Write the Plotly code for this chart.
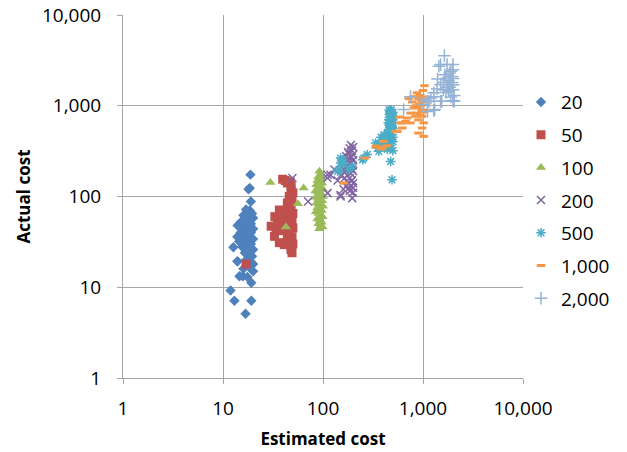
import plotly.graph_objects as go

# ---------------- data ----------------
series_names = ["20", "50", "100", "200", "500", "1,000", "2,000"]

est_20 = [18.8, 18.5, 18, 19, 17, 18.5, 19.5, 16, 18, 20, 15, 17, 19, 14, 16, 18, 20, 15, 17, 19,
          13.9, 16, 18, 20, 14.5, 17, 19, 12.7, 15.5, 18, 20, 16.5, 18.5, 19.5, 14, 17, 19, 20, 18,
          16, 14.6, 15.8, 17.5, 19.2, 20, 11.9, 13, 19.2, 16.8, 13.9, 18, 19, 17]
act_20 = [174, 124, 120, 88, 72, 70, 65, 62, 60, 58, 52, 50, 50, 48, 45, 45, 44, 40, 40, 40,
          36, 36, 35, 34, 32, 31, 30, 27.6, 28, 27, 26, 24, 23, 22, 19.3, 20, 19, 18, 17,
          16, 13.2, 13.2, 13, 11.2, 15, 9.2, 7.1, 7.1, 5.1, 19.3, 55, 42, 33]

est_50 = [17, 39.5, 42, 44, 47, 48, 47.9, 50, 46, 49, 44, 48, 36.6, 40, 46, 50, 33, 38, 44, 49,
          30.3, 35, 42, 47, 50, 34, 40, 46, 32.7, 44, 49, 36.6, 41, 46, 48, 50, 47.9, 49]
act_50 = [18, 155, 150, 141, 145, 130, 119, 110, 100, 95, 85, 80, 71, 70, 68, 65, 60, 58, 58, 55,
          47, 50, 48, 47, 45, 43, 42, 40, 36.4, 37, 36, 31, 29.5, 31, 28, 30, 26, 24]

est_100 = [29.8, 64, 56, 42.6, 92, 94, 90, 96, 88, 93, 98, 86, 91, 95, 100, 84, 89, 93, 97, 100,
           85, 90, 94, 98, 86, 91, 96, 100, 88, 93, 97, 85, 90, 95, 99, 88, 93, 97, 90, 95, 99, 92]
act_100 = [143, 124, 83, 46, 190, 175, 165, 160, 150, 145, 140, 135, 130, 125, 120, 115, 112, 108, 105, 100,
           98, 95, 92, 90, 85, 82, 80, 78, 75, 72, 70, 68, 65, 62, 60, 57, 55, 52, 50, 48, 46, 44]

est_200 = [49.5, 71, 111, 111, 111, 119, 130, 150, 196, 150, 140, 150, 160, 165, 170, 175, 180, 185,
           190, 195, 200, 200, 170, 180, 190, 200, 175, 185, 195, 200, 180, 190, 200, 170, 160, 185,
           200, 175, 195, 188, 200, 165, 182, 192, 178, 198, 186, 172, 194, 183]
act_200 = [160, 88, 109, 160, 174, 173, 198, 104, 96, 100, 150, 170, 200, 230, 280, 250, 300, 340,
           370, 320, 290, 350, 190, 210, 230, 250, 170, 160, 150, 140, 140, 130, 125, 130, 120, 115,
           110, 220, 200, 180, 190, 160, 265, 270, 310, 220, 240, 210, 150, 125]

est_500 = [150, 140, 145, 150, 156, 162, 182, 195, 249, 256, 277, 336, 362, 475, 490, 350, 380, 400,
           420, 380, 410, 440, 460, 480, 500, 470, 490, 460, 500, 480, 450, 470, 500, 430, 460, 480,
           500, 440, 410, 390, 370, 480, 500, 460, 490, 420, 500, 470, 440, 500,
           455, 465, 475, 485, 495, 455, 465, 475, 485, 495, 450, 462, 478, 492, 458, 470, 488, 500]
act_500 = [234, 190, 198, 265, 254, 234, 198, 215, 254, 265, 290, 389, 315, 243, 153, 340, 360, 400,
           420, 450, 480, 500, 550, 600, 650, 700, 750, 800, 850, 900, 480, 430, 400, 380, 360, 340,
           320, 330, 350, 400, 380, 520, 560, 620, 480, 450, 700, 580, 420, 450,
           540, 620, 680, 760, 820, 700, 860, 520, 600, 780, 650, 740, 880, 580, 900, 820, 660, 740]

est_1000 = [162, 262, 336, 342, 380, 392, 400, 434, 530, 545, 555, 585, 595, 620, 620, 670, 695, 720,
            750, 750, 810, 810, 840, 870, 870, 900, 900, 980, 980, 1000, 1015, 1015, 1035, 950, 1000,
            920, 960, 880, 1000, 780, 850, 930, 990, 1020, 900, 970, 940]
act_1000 = [141, 265, 350, 360, 334, 345, 405, 362, 522, 520, 522, 750, 647, 569, 647, 673, 733, 1200,
            829, 647, 946, 1260, 766, 829, 1390, 1200, 500, 766, 569, 1475, 647, 460, 1665, 1000, 900,
            1050, 1150, 950, 1100, 1100, 1000, 1300, 1250, 850, 700, 880, 780]

est_2000 = [640, 750, 1000, 1015, 1110, 1110, 1150, 1200, 1280, 1280, 1280, 1310, 1380, 1400, 1440,
            1500, 1500, 1500, 1540, 1600, 1637, 1650, 1700, 1740, 1750, 1800, 1850, 1900, 1950, 1990,
            1990, 2000, 2050, 2000, 1900, 1800, 1700, 1950, 2000, 1850, 1600, 2050, 1900, 2000]
act_2000 = [910, 1260, 1030, 1170, 866, 1118, 1118, 1220, 1390, 890, 1260, 910, 1530, 1970, 2720,
            2840, 1118, 1700, 1118, 1800, 3563, 2200, 2000, 2840, 1600, 1900, 2300, 1700, 2100, 2840,
            1140, 1500, 1118, 2500, 2400, 1450, 1400, 1800, 2000, 1600, 1500, 1300, 1250, 1700]

tick_vals = [1, 10, 100, 1000, 10000]
tick_text = ["1", "10", "100", "1,000", "10,000"]

# ---------------- styles ----------------
colors = ["#4F81BD", "#C0504D", "#9BBB59", "#8064A2", "#4BACC6", "#F79646", "#95B3D7"]
symbols = ["diamond", "square", "triangle-up", "x-thin-open", "asterisk-open", "line-ew-open", "cross-thin-open"]
sizes = [8, 9, 9, 8, 8, 6, 9]
widths = [0, 0, 0, 1.5, 1.5, 3, 1.5]

xs = [est_20, est_50, est_100, est_200, est_500, est_1000, est_2000]
ys = [act_20, act_50, act_100, act_200, act_500, act_1000, act_2000]

FONT = "Open Sans"

fig = go.Figure()
for i, name in enumerate(series_names):
    fig.add_trace(go.Scatter(
        x=xs[i], y=ys[i], mode="markers", name=name, legendgroup=name,
        marker=dict(symbol=symbols[i], size=sizes[i], color=colors[i],
                    line=dict(width=widths[i], color=colors[i])),
    ))

axis_common = dict(
    type="log", range=[0, 4], tickvals=tick_vals, ticktext=tick_text,
    showgrid=True, gridcolor="#A6A6A6", gridwidth=1,
    showline=True, linecolor="#A6A6A6", linewidth=1,
    ticks="outside", ticklen=5, tickcolor="#A6A6A6",
    tickfont=dict(family=FONT, size=19, color="#000000"),
    zeroline=False, automargin=False, ticklabeloverflow="allow",
)

fig.update_layout(
    width=627, height=452,
    margin=dict(l=123, r=102, t=15, b=74),
    paper_bgcolor="white", plot_bgcolor="white",
    xaxis=dict(**axis_common, ticklabelstandoff=8,
               title=dict(text="<b>Estimated cost</b>", font=dict(family=FONT, size=17, color="#000"), standoff=13)),
    yaxis=dict(**axis_common, ticklabelstandoff=12,
               title=dict(text="<b>Actual cost</b>", font=dict(family=FONT, size=17, color="#000"), standoff=7)),
    legend=dict(x=0.995, y=0.49, xanchor="left", yanchor="middle", itemwidth=30,
                font=dict(family=FONT, size=19, color="#000"),
                tracegroupgap=5, bgcolor="rgba(0,0,0,0)"),
    showlegend=True,
)

fig.write_html("out.html", config={"displayModeBar": False},
               post_script="document.body.style.margin='0';")
